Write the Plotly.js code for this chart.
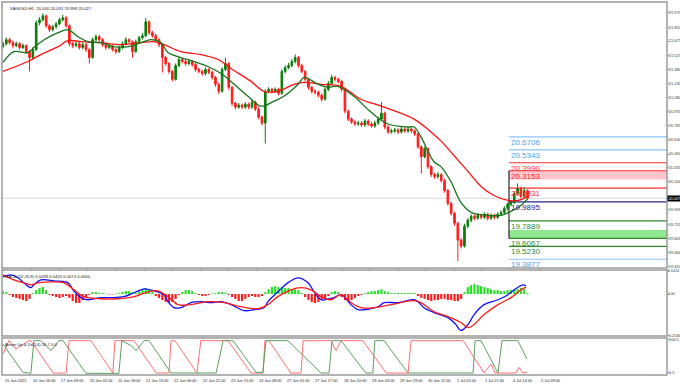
<!DOCTYPE html>
<html>
<head>
<meta charset="utf-8">
<script src="https://cdn.plot.ly/plotly-3.0.1.min.js"></script>
<style>
html,body{margin:0;padding:0;background:#fff;}
#chart{width:680px;height:385px;}
</style>
</head>
<body>
<div id="chart"></div>
<script>
// ---- Price data (2-hour candles) ----
const opens = [21.620,21.647,21.689,21.658,21.627,21.647,21.606,21.627,21.564,21.502,
21.585,21.866,21.897,21.939,21.835,21.793,21.824,21.855,21.897,21.918,
21.835,21.647,21.627,21.647,21.606,21.637,21.585,21.502,21.689,21.720,
21.689,21.637,21.606,21.616,21.585,21.564,21.606,21.647,21.689,21.668,
21.564,21.668,21.710,21.731,21.876,21.762,21.731,21.689,21.637,21.502,
21.439,21.356,21.273,21.419,21.481,21.460,21.439,21.460,21.429,21.377,
21.356,21.335,21.377,21.346,21.294,21.221,21.148,21.377,21.439,21.190,
21.023,20.982,21.003,20.982,21.013,20.982,21.034,20.961,20.878,20.815,
21.148,21.169,21.148,21.169,21.127,21.356,21.398,21.419,21.460,21.502,
21.419,21.356,21.273,21.190,21.148,21.138,21.107,21.065,21.169,21.231,
21.294,21.273,21.252,21.169,20.940,20.857,20.826,20.805,20.815,20.795,
20.836,20.805,20.784,20.815,20.857,20.919,20.774,20.722,20.732,20.743,
20.722,20.753,20.732,20.753,20.732,20.701,20.566,20.462,20.545,20.358,
20.275,20.254,20.275,20.212,20.108,19.973,19.869,19.765,19.588,19.526,
19.734,19.796,19.838,19.817,19.848,19.827,19.859,19.817,19.848,19.827,
19.859,19.879,19.921,19.963,19.984,20.077,20.129,20.046,20.108];
const highs = [21.672,21.712,21.710,21.680,21.670,21.665,21.650,21.640,21.580,21.610,
21.890,21.925,21.965,21.950,21.850,21.845,21.875,21.920,21.950,21.935,
21.850,21.670,21.675,21.665,21.660,21.655,21.600,21.710,21.745,21.740,
21.705,21.655,21.640,21.635,21.600,21.625,21.670,21.715,21.705,21.680,
21.690,21.730,21.760,21.918,21.890,21.780,21.750,21.705,21.650,21.520,
21.455,21.370,21.440,21.505,21.500,21.480,21.485,21.475,21.445,21.395,
21.375,21.400,21.395,21.365,21.310,21.240,21.400,21.500,21.455,21.205,
21.040,21.025,21.020,21.035,21.030,21.060,21.050,20.980,20.895,21.170,
21.190,21.185,21.190,21.185,21.380,21.420,21.445,21.485,21.535,21.520,
21.435,21.370,21.290,21.205,21.170,21.155,21.125,21.190,21.255,21.320,
21.310,21.290,21.270,21.185,20.955,20.875,20.845,20.840,20.835,20.860,
20.855,20.825,20.840,20.880,21.034,20.935,20.790,20.755,20.765,20.760,
20.775,20.770,20.775,20.770,20.750,20.715,20.580,20.570,20.560,20.375,
20.295,20.300,20.290,20.230,20.125,19.990,19.885,19.780,19.610,19.760,
19.820,19.860,19.855,19.870,19.865,19.880,19.875,19.870,19.865,19.880,
19.900,19.945,19.985,20.010,20.100,20.181,20.150,20.140,20.120];
const lows = [21.600,21.630,21.640,21.600,21.610,21.585,21.590,21.540,21.356,21.480,
21.570,21.840,21.880,21.815,21.770,21.775,21.805,21.840,21.880,21.815,
21.620,21.600,21.610,21.585,21.590,21.560,21.440,21.490,21.670,21.665,
21.615,21.585,21.590,21.565,21.540,21.550,21.590,21.630,21.650,21.500,
21.550,21.650,21.690,21.715,21.740,21.710,21.665,21.610,21.346,21.415,
21.330,21.250,21.260,21.400,21.440,21.415,21.420,21.405,21.355,21.335,
21.310,21.315,21.325,21.270,21.195,21.120,21.135,21.360,21.165,20.995,
20.960,20.965,20.960,20.965,20.960,20.965,20.940,20.855,20.790,20.600,
21.130,21.125,21.130,21.105,21.110,21.335,21.380,21.400,21.440,21.395,
21.335,21.250,21.165,21.125,21.115,21.085,21.040,21.050,21.150,21.215,
21.250,21.230,21.145,20.915,20.835,20.805,20.785,20.785,20.775,20.775,
20.785,20.765,20.765,20.795,20.840,20.750,20.700,20.705,20.712,20.700,
20.705,20.712,20.712,20.710,20.680,20.545,20.285,20.445,20.335,20.250,
20.230,20.235,20.190,20.085,19.950,19.845,19.740,19.370,19.500,19.510,
19.715,19.775,19.795,19.800,19.805,19.810,19.795,19.800,19.805,19.810,
19.840,19.860,19.900,19.945,19.965,20.060,20.025,20.030,20.005];
const closes = [21.647,21.689,21.658,21.627,21.647,21.606,21.627,21.564,21.502,21.585,
21.866,21.897,21.939,21.835,21.793,21.824,21.855,21.897,21.918,21.835,
21.647,21.627,21.647,21.606,21.637,21.585,21.502,21.689,21.720,21.689,
21.637,21.606,21.616,21.585,21.564,21.606,21.647,21.689,21.668,21.564,
21.668,21.710,21.731,21.876,21.762,21.731,21.689,21.637,21.502,21.439,
21.356,21.273,21.419,21.481,21.460,21.439,21.460,21.429,21.377,21.356,
21.335,21.377,21.346,21.294,21.221,21.148,21.377,21.439,21.190,21.023,
20.982,21.003,20.982,21.013,20.982,21.034,20.961,20.878,20.815,21.148,
21.169,21.148,21.169,21.127,21.356,21.398,21.419,21.460,21.502,21.419,
21.356,21.273,21.190,21.148,21.138,21.107,21.065,21.169,21.231,21.294,
21.273,21.252,21.169,20.940,20.857,20.826,20.805,20.815,20.795,20.836,
20.805,20.784,20.815,20.857,20.919,20.774,20.722,20.732,20.743,20.722,
20.753,20.732,20.753,20.732,20.701,20.566,20.462,20.545,20.358,20.275,
20.254,20.275,20.212,20.108,19.973,19.869,19.765,19.588,19.526,19.734,
19.796,19.838,19.817,19.848,19.827,19.859,19.817,19.848,19.827,19.859,
19.879,19.921,19.963,19.984,20.077,20.129,20.046,20.108,20.027];

// ---- Moving averages (bar index, value) ----
const maFastX = [0,3.3,7.5,9.3,12.4,16.6,19.6,22.6,25.6,29.5,33.4,37.7,41.6,44.6,47.6,49.7,53.6,57.5,61.7,65.7,68.7,73.8,77.7,81.6,84.6,88.9,90.7,94.9,97.9,100.9,105.7,110.8,116,122,123.8,125.9,129.8,131.9,134.9,137.9,141,146.1,150,153,156,157.8];
const maFast  = [21.450,21.564,21.554,21.606,21.689,21.762,21.793,21.720,21.668,21.658,21.616,21.616,21.658,21.689,21.658,21.554,21.502,21.460,21.408,21.335,21.252,21.096,20.992,21.044,21.096,21.221,21.294,21.221,21.190,21.200,21.096,20.930,20.805,20.774,20.774,20.670,20.410,20.358,20.202,19.984,19.879,19.848,19.848,19.890,19.952,20.015];
const maSlowX = [0,7.5,11.4,16.6,19.6,23.5,29.5,35.5,41.6,45.5,48.5,53.6,59.6,64.8,68.7,74.7,78.6,82.8,87.7,90.7,95.8,101.8,107.8,113.9,123.8,128.9,131.9,135.9,140.1,144,147.9,152.1,155.1,156.9,157.8];
const maSlow  = [21.356,21.460,21.533,21.616,21.679,21.668,21.658,21.637,21.658,21.668,21.637,21.564,21.533,21.481,21.387,21.252,21.148,21.148,21.221,21.242,21.221,21.200,21.065,20.992,20.857,20.722,20.628,20.472,20.306,20.150,20.056,20.004,20.004,20.025,20.046];

// ---- MACD ----
const macdX = [0,2.4,4.5,6.3,8.4,9.3,11.4,15.4,19.6,21.1,23.5,25.6,29.5,32.5,36.4,39.5,42.5,45.5,48.5,49.7,51.5,53.6,56.6,59.6,62.7,65.7,68.7,72.6,75.6,78.6,79.8,82.8,85.8,88.9,91.9,93.7,95.8,99.7,101.8,104.8,106.9,110.8,113,114.8,119,123.8,125,126.8,129.8,134,136.4,137.9,140.1,141.9,144.9,149.1,152.1,154,156.6,157.5];
const macdMain = [0.106,0.118,0.100,0.069,0.039,0.057,0.087,0.081,0.069,0.026,-0.022,-0.035,-0.022,-0.022,-0.016,0.008,0.032,0.020,-0.004,-0.047,-0.084,-0.084,-0.053,-0.047,-0.053,-0.047,-0.065,-0.102,-0.096,-0.084,-0.047,0.014,0.069,0.100,0.069,0.014,-0.035,-0.022,-0.004,-0.065,-0.096,-0.090,-0.078,-0.053,-0.053,-0.035,-0.047,-0.084,-0.114,-0.145,-0.187,-0.224,-0.187,-0.126,-0.065,-0.035,-0.004,0.026,0.057,0.050];
const sigX = [0,3.3,6.3,8.4,10.5,14.5,18.4,21.4,24.4,29.5,34.6,39.5,43.7,46.7,49.7,52.7,56.6,61.7,66.6,71.7,76.8,79.8,82.8,86.7,89.8,92.8,95.8,98.8,101.8,104.8,107.8,111.7,116.9,123.8,125.9,129.8,134,137.9,140.1,141.9,144.9,149.1,153,156,157.5];
const macdSignal = [0.118,0.087,0.069,0.057,0.069,0.075,0.069,0.026,-0.016,-0.029,-0.029,-0.016,0.014,0.020,-0.016,-0.065,-0.065,-0.047,-0.053,-0.078,-0.090,-0.065,-0.016,0.026,0.039,0.026,-0.016,-0.035,-0.004,-0.053,-0.084,-0.084,-0.065,-0.041,-0.053,-0.108,-0.139,-0.175,-0.206,-0.187,-0.126,-0.065,-0.022,0.026,0.043];
const macdHist = [0.018,0.012,-0.006,-0.018,-0.024,-0.030,-0.037,-0.043,-0.030,0.006,
0.024,0.037,0.043,0.024,-0.006,-0.012,-0.018,-0.024,-0.018,-0.012,
-0.024,-0.043,-0.055,-0.055,-0.037,-0.018,-0.006,0.012,0.012,0.006,
0.006,0.003,-0.003,-0.003,0.003,0.006,0.012,0.018,0.018,0.012,
0.006,0.018,0.030,0.037,0.030,0.012,-0.012,-0.024,-0.037,-0.049,
-0.055,-0.049,-0.030,-0.006,0.012,0.024,0.024,0.018,0.006,-0.006,
-0.012,-0.012,-0.006,0.003,0.006,0.012,0.012,0.009,-0.006,-0.018,
-0.030,-0.043,-0.043,-0.030,-0.018,-0.012,-0.018,-0.018,-0.012,0.012,
0.030,0.043,0.049,0.043,0.043,0.037,0.037,0.030,0.030,0.024,
0.006,-0.018,-0.037,-0.049,-0.055,-0.049,-0.037,-0.024,-0.012,0.012,
0.018,0.012,-0.018,-0.037,-0.043,-0.037,-0.024,-0.012,-0.006,0.006,
0.012,0.018,0.018,0.024,0.030,0.018,0.012,0.006,0.006,0.006,
0.006,0.006,0.006,0.006,0.006,-0.012,-0.024,-0.030,-0.037,-0.043,
-0.037,-0.037,-0.030,-0.030,-0.037,-0.037,-0.043,-0.043,-0.030,0.012,
0.043,0.055,0.061,0.055,0.049,0.043,0.037,0.030,0.024,0.024,
0.018,0.018,0.024,0.024,0.030,0.030,0.037,0.030,0.007];

// ---- Aroon (bar index, value) ----
const aroonUpX = [0,6.0,8.4,9.3,11.4,14.5,16.9,18.1,25,34.9,35.8,38.6,40.1,42.5,44,50.6,64.2,66.3,69.3,76.2,78.3,79.2,85.8,89.8,95.8,98.2,99.1,101.8,109.3,111.4,112,114.8,122,141.6,142.2,144,149.1,150.3,155.1,157.8];
const aroonUp  = [90,5,2,100,100,70,100,100,2,2,100,85,70,100,100,3,3,100,100,5,5,100,100,60,3,3,100,100,3,3,100,100,3,3,100,100,3,100,100,45];
const aroonDnX = [0,1.8,3.9,7.8,8.4,15.1,19,19.9,26.5,33.1,33.7,39.5,46.1,50,50.6,51.8,58.4,59.6,67.8,74.7,78.3,78.9,80.1,86.7,89.8,90.4,98.8,100.3,101.8,108.4,115.4,122,122.9,131,138.6,144.9,147,148.2,154.5,155.4,156.6,157.8];
const aroonDn  = [60,100,75,100,100,3,3,100,100,3,100,100,3,3,100,100,3,100,100,3,3,100,100,3,3,100,100,70,100,100,3,3,100,100,100,3,30,3,3,20,3,5];

// ---- Levels drawn on the right ----
const levels = [20.6706,20.5343,20.3990,20.3153,20.1331,19.9895,19.7889,19.6067,19.5230,19.3877];
const levelColors = ['#8cc4f7','#8cc4f7','#ff3030','#ff3030','#ff3030','#24248a','#2e8b2e','#2e8b2e','#2e8b2e','#8cc4f7'];
const levelTextColors = ['#4aa0f0','#4aa0f0','#ff3030','#ff3030','#ff3030','#24248a','#2e8b2e','#2e8b2e','#2e8b2e','#4aa0f0'];
const pinkZone = [20.224, 20.3153];
const greenZone = [19.6067, 19.693];
const lastPrice = 20.027;

const priceTicks = [21.970,21.820,21.675,21.525,21.380,21.230,21.080,20.935,20.785,20.640,20.490,20.345,20.200,19.905,19.755,19.605,19.460,19.310];
const timeLabels = ["15 Jun 2022","16 Jun 16:00","17 Jun 09:00","20 Jun 02:00","20 Jun 18:00","21 Jun 13:00","22 Jun 06:00","22 Jun 22:00","23 Jun 15:00","24 Jun 08:00","27 Jun 01:00","27 Jun 17:00","28 Jun 10:00","29 Jun 03:00","29 Jun 19:00","30 Jun 12:00","1 Jul 05:00","1 Jul 21:00","4 Jul 14:00","5 Jul 09:00"];
const barsPerLabel = 8.5;

// ---- build ----
const idx = closes.map((_, i) => i);
const FONT = 'Liberation Sans, Arial, sans-serif';
const levelStart = 152.4;
const xEnd = 200;

const traces = [
  {type:'candlestick', x: idx, open: opens, high: highs, low: lows, close: closes,
   xaxis:'x', yaxis:'y', whiskerwidth:0,
   increasing:{line:{color:'#0a7d0a', width:1}, fillcolor:'#0a7d0a'},
   decreasing:{line:{color:'#ff1a1a', width:1}, fillcolor:'#ff1a1a'},
   hoverinfo:'skip', showlegend:false},
  {type:'scatter', mode:'lines', x: maSlowX, y: maSlow, xaxis:'x', yaxis:'y',
   line:{color:'#ff1010', width:1.3, shape:'spline'}, hoverinfo:'skip', showlegend:false},
  {type:'scatter', mode:'lines', x: maFastX, y: maFast, xaxis:'x', yaxis:'y',
   line:{color:'#16751a', width:1.3, shape:'spline'}, hoverinfo:'skip', showlegend:false},
  {type:'bar', x: idx, y: macdHist, xaxis:'x', yaxis:'y2',
   marker:{color: macdHist.map(v => v >= 0 ? '#22e022' : '#ff1a1a')},
   hoverinfo:'skip', showlegend:false},
  {type:'scatter', mode:'lines', x: macdX, y: macdMain, xaxis:'x', yaxis:'y2',
   line:{color:'#1010ff', width:1.3, shape:'spline'}, hoverinfo:'skip', showlegend:false},
  {type:'scatter', mode:'lines', x: sigX, y: macdSignal, xaxis:'x', yaxis:'y2',
   line:{color:'#ff1a1a', width:1.3, shape:'spline'}, hoverinfo:'skip', showlegend:false},
  {type:'scatter', mode:'lines', x: aroonDnX, y: aroonDn, xaxis:'x', yaxis:'y3',
   line:{color:'#ff7070', width:1}, hoverinfo:'skip', showlegend:false},
  {type:'scatter', mode:'lines', x: aroonUpX, y: aroonUp, xaxis:'x', yaxis:'y3',
   line:{color:'#5e9e5e', width:1}, hoverinfo:'skip', showlegend:false}
];

const shapes = [];
const annotations = [];
// last price line
shapes.push({type:'line', xref:'paper', x0:0, x1:1, yref:'y', y0:lastPrice, y1:lastPrice,
  line:{color:'#d6d6d6', width:1}, layer:'below'});
// zones
shapes.push({type:'rect', xref:'x', x0:levelStart, x1:xEnd, yref:'y', y0:pinkZone[0], y1:pinkZone[1],
  fillcolor:'#ffc4cc', line:{width:0}, layer:'below'});
shapes.push({type:'rect', xref:'x', x0:levelStart, x1:xEnd, yref:'y', y0:greenZone[0], y1:greenZone[1],
  fillcolor:'#8fe88f', line:{width:0}, layer:'below'});
levels.forEach((lv, i) => {
  shapes.push({type:'line', xref:'x', x0:levelStart, x1:xEnd, yref:'y', y0:lv, y1:lv,
    line:{color:levelColors[i], width:1.2}, layer:'below'});
  annotations.push({xref:'x', x:levelStart+0.2, yref:'y', y:lv, xanchor:'left', yanchor:'top',
    text: lv.toFixed(4), showarrow:false, font:{family:FONT, size:8, color:levelTextColors[i]},
    borderpad:0, yshift:0});
});
// vertical black marker
shapes.push({type:'line', xref:'x', x0:levelStart, x1:levelStart, yref:'y', y0:levels[3], y1:levels[7],
  line:{color:'#000', width:1}, layer:'below'});

// panel frames
const dMain = [0.2869, 1], dMacd = [0.1046, 0.2815], dAroon = [0, 0.0992];
[dMain, dMacd, dAroon].forEach(d => {
  shapes.push({type:'rect', xref:'paper', yref:'paper', x0:0, x1:1, y0:d[0], y1:d[1],
    line:{color:'#9a9a9a', width:1.5}, fillcolor:'rgba(0,0,0,0)'});
});

// price box
annotations.push({xref:'paper', x:1, yref:'y', y:lastPrice, xanchor:'left', yanchor:'middle',
  text: lastPrice.toFixed(3), showarrow:false, bgcolor:'#000', font:{family:FONT, size:3.8, color:'#fff'},
  borderpad:0.5, xshift:0});

// headers
const HF = {family:FONT, size:4.2, color:'#222'};
annotations.push({xref:'paper', x:0.009, yref:'paper', y:1, xanchor:'left', yanchor:'top', yshift:-2,
  text:'XAGUSD,H1  20.000 20.031 19.999 20.027', showarrow:false, font:HF});
annotations.push({xref:'paper', x:0.002, yref:'paper', y:dMacd[1], xanchor:'left', yanchor:'top', yshift:-2,
  text:'MACD(12,26,9) 0.0499 0.0425 0.0074 0.0000', showarrow:false, font:HF});
annotations.push({xref:'paper', x:0.002, yref:'paper', y:dAroon[1], xanchor:'left', yanchor:'top', yshift:-2,
  text:'Aroon Up & Dn(14) 35.7 0.0', showarrow:false, font:HF});

// time labels
const tickPos = timeLabels.map((_, k) => k * barsPerLabel);
timeLabels.forEach((t, k) => {
  annotations.push({xref:'x', x:tickPos[k], yref:'paper', y:0, xanchor:'left', yanchor:'top', yshift:-1, xshift:0,
    text:t, showarrow:false, font:{family:FONT, size:3.9, color:'#222'}});
});

const TF = {family:FONT, size:4, color:'#333'};
const TF2 = {family:FONT, size:3.7, color:'#333'};
const layout = {
  width:680, height:385,
  margin:{l:2, r:13, t:2, b:10},
  paper_bgcolor:'#fff', plot_bgcolor:'#fff',
  showlegend:false, bargap:0.35,
  font:{family:FONT, size:5, color:'#222'},
  xaxis:{range:[-0.3, xEnd], showgrid:false, zeroline:false, rangeslider:{visible:false},
    tickvals: tickPos, showticklabels:false, ticks:'outside', ticklen:2, tickcolor:'#888',
    showline:false, fixedrange:true},
  yaxis:{domain:dMain, range:[19.296, 22.084], side:'right', anchor:'x', showgrid:false, zeroline:false,
    tickvals: priceTicks, tickformat:'.3f', ticks:'outside', ticklen:1, tickcolor:'#888',
    tickfont:TF, showline:false, ticklabelstandoff:-1},
  yaxis2:{domain:dMacd, range:[-0.2580, 0.1480], side:'right', anchor:'x', showgrid:false, zeroline:false,
    tickvals:[0.1424, 0, -0.2546], ticktext:['0.1424','0.00','-0.2546'], ticks:'outside', ticklen:1,
    tickcolor:'#888', tickfont:TF2, ticklabelstandoff:-2},
  yaxis3:{domain:dAroon, range:[-3, 108], side:'right', anchor:'x', showgrid:false, zeroline:false,
    tickvals:[104.5, 4.5], ticktext:['104.5','4.5'], ticks:'outside', ticklen:1,
    tickcolor:'#888', tickfont:TF, ticklabelstandoff:-1},
  shapes: shapes,
  annotations: annotations
};

Plotly.newPlot('chart', traces, layout, {staticPlot:true, displayModeBar:false});
</script>
</body>
</html>
